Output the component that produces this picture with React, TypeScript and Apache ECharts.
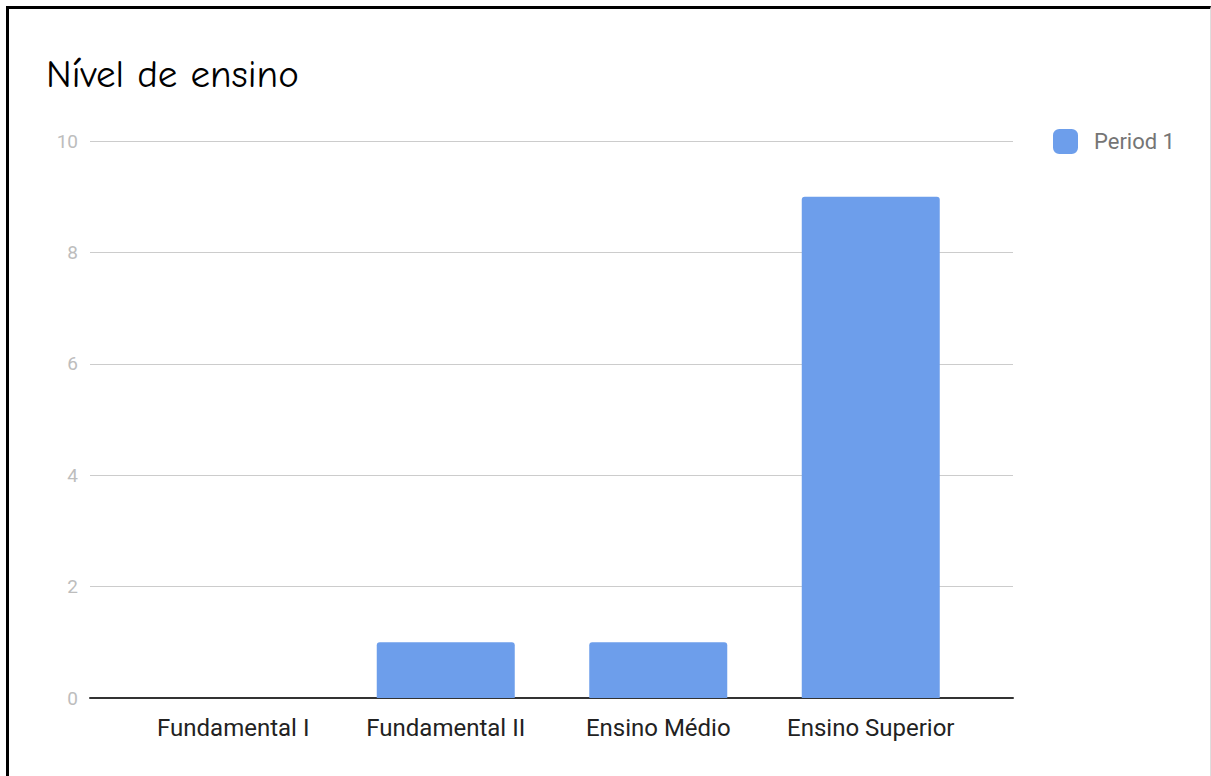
import React, { useEffect, useRef } from "react";
import * as echarts from "echarts";

const categories = ["Fundamental I", "Fundamental II", "Ensino Médio", "Ensino Superior"];
const period1 = [0, 1, 1, 9];
const seriesName = "Period 1";
const titleText = "Nível de ensino";
const yMin = 0;
const yMax = 10;
const yStep = 2;

const W = 1211;
const H = 776;

export default function App() {
  const ref = useRef<HTMLDivElement>(null);

  useEffect(() => {
    if (!ref.current) return;
    const chart = echarts.init(ref.current, undefined, { renderer: "svg" });
    const font = "Roboto, 'Noto Sans', sans-serif";
    chart.setOption({
      animation: false,
      backgroundColor: "transparent",
      title: {
        text: titleText,
        left: 46,
        top: 55,
        padding: 0,
        textStyle: {
          fontFamily: "'Comic Sans MS', 'Comic Neue', 'DejaVu Sans', sans-serif",
          fontSize: 39,
          fontWeight: "normal",
          color: "#000000",
        },
      },
      legend: {
        left: 1053,
        top: 129,
        padding: 0,
        itemWidth: 25,
        itemHeight: 25,
        icon: "roundRect",
        data: [seriesName],
        textStyle: {
          fontFamily: font,
          fontSize: 22,
          color: "#757575",
          padding: [0, 0, 0, 11],
        },
      },
      grid: [
        { left: 90, right: W - 1013, top: 141, bottom: H - 698 },
        { left: 127, right: W - 977, top: 141, bottom: H - 698 },
      ],
      xAxis: [
        {
          type: "value",
          gridIndex: 0,
          min: 0,
          max: 1,
          axisLine: { show: true, onZero: false, lineStyle: { color: "#333333", width: 2 } },
          axisTick: { show: false },
          axisLabel: { show: false },
          splitLine: { show: false },
        },
        {
          type: "category",
          gridIndex: 1,
          data: categories,
          axisLine: { show: false },
          axisTick: { show: false },
          axisLabel: { interval: 0, fontFamily: font, fontSize: 24, color: "#222222", margin: 18 },
        },
      ],
      yAxis: [
        {
          type: "value",
          gridIndex: 0,
          min: yMin,
          max: yMax,
          interval: yStep,
          axisLine: { show: false },
          axisTick: { show: false },
          axisLabel: { fontFamily: font, fontSize: 19, color: "#bdbdbd", margin: 12 },
          splitLine: { show: true, lineStyle: { color: "#cccccc", width: 1 } },
        },
        {
          type: "value",
          gridIndex: 1,
          min: yMin,
          max: yMax,
          interval: yStep,
          show: false,
          splitLine: { show: false },
        },
      ],
      series: [
        {
          name: seriesName,
          type: "bar",
          xAxisIndex: 1,
          yAxisIndex: 1,
          data: period1,
          barWidth: 138,
          itemStyle: { color: "#6d9eeb", borderRadius: [3, 3, 0, 0] },
        },
      ],
    });
    return () => chart.dispose();
  }, []);

  return (
    <div style={{ position: "absolute", left: 0, top: 0, width: W, height: H, background: "#ffffff", overflow: "hidden" }}>
      <div
        style={{
          position: "absolute",
          left: 6,
          top: 6,
          width: W - 6 - 3 - 1,
          height: H,
          borderLeft: "3px solid #000000",
          borderTop: "3px solid #000000",
          borderRight: "1px solid #dddddd",
        }}
      />
      <div ref={ref} style={{ position: "absolute", left: 0, top: 0, width: W, height: H }} />
    </div>
  );
}
